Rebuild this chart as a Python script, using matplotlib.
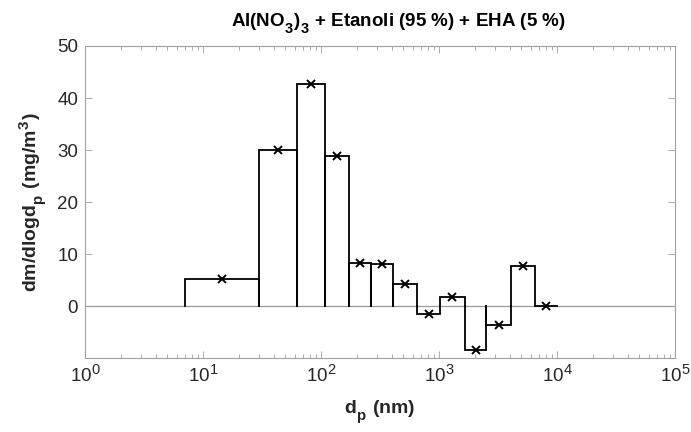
import matplotlib
matplotlib.use("Agg")
import matplotlib.pyplot as plt
import matplotlib._mathtext as mathtext_internals
import numpy as np
from matplotlib.ticker import LogLocator, NullFormatter

plt.rcParams['font.family'] = ['Liberation Sans', 'DejaVu Sans']
plt.rcParams['mathtext.fontset'] = 'custom'
plt.rcParams['mathtext.rm'] = 'Liberation Sans'
plt.rcParams['mathtext.bf'] = 'Liberation Sans:bold'
plt.rcParams['mathtext.it'] = 'Liberation Sans:italic'

# larger, lower sub/superscripts
try:
    mathtext_internals.SHRINK_FACTOR = 0.78
    mathtext_internals.FontConstantsBase.sub1 = 0.75
    mathtext_internals.FontConstantsBase.subdrop = 0.75
    mathtext_internals.FontConstantsBase.script_space = 0.12
except Exception:
    pass

# ELPI stage boundaries (nm) and measured mass size distribution
edges_nm = [7, 30, 63, 109, 173, 267, 407, 655, 1021, 1655, 2520, 4085, 6560, 9990]
dmdlogdp = [5.3, 30.0, 42.8, 28.9, 8.3, 8.2, 4.3, -1.5, 1.8, -8.4, -3.5, 7.8, 0.0]

title_text = r"Al(NO$_\mathbf{3}$)$_\mathbf{3}$ + Etanoli (95 %) + EHA (5 %)"
xlabel_text = r"d$_\mathbf{p}$ (nm)"
ylabel_text = r"dm/dlogd$_\mathbf{p}$ (mg/m$^\mathbf{3}$)"
yticks = [0, 10, 20, 30, 40, 50]

axis_col = '#262626'
spine_col = '#a0a0a0'

fig = plt.figure(figsize=(6.91, 4.32), dpi=100)
ax = fig.add_axes([85/691, 1-358/432, 590/691, 312/432])

ax.set_xscale('log')
ax.set_xlim(1, 1e5)
ax.set_ylim(-9.9, 50)

# baseline at zero
ax.axhline(0, color='#9a9a9a', lw=0.9, zorder=1)

edges = np.array(edges_nm, dtype=float)
for lo, hi, v in zip(edges[:-1], edges[1:], dmdlogdp):
    ax.plot([lo, lo, hi, hi], [0, v, v, 0], color='black', lw=1.3, zorder=2,
            solid_joinstyle='miter')

centers = np.sqrt(edges[:-1] * edges[1:])
ax.plot(centers, dmdlogdp, linestyle='none', marker='x', color='black',
        markersize=6, markeredgewidth=1.4, zorder=3)

ax.set_yticks(yticks)
ax.xaxis.set_major_locator(LogLocator(base=10, numticks=10))
ax.xaxis.set_minor_locator(LogLocator(base=10, subs=np.arange(2, 10), numticks=10))
ax.xaxis.set_minor_formatter(NullFormatter())

ax.tick_params(axis='both', which='both', direction='in', top=True, right=True,
               colors=spine_col, labelcolor=axis_col, labelsize=13.5, pad=5)
ax.tick_params(which='major', length=5, width=0.6)
ax.tick_params(which='minor', length=3, width=0.6)
for s in ax.spines.values():
    s.set_color(spine_col)
    s.set_linewidth(0.8)

ax.set_title(title_text, fontsize=13.5, fontweight='bold', color='black', pad=14,
             x=(398 - 85) / 590)
ax.set_xlabel(xlabel_text, fontsize=14, fontweight='bold', color=axis_col, labelpad=9)
ax.set_ylabel(ylabel_text, fontsize=14, fontweight='bold', color=axis_col, labelpad=6)

fig.savefig('out.png', dpi=100)
